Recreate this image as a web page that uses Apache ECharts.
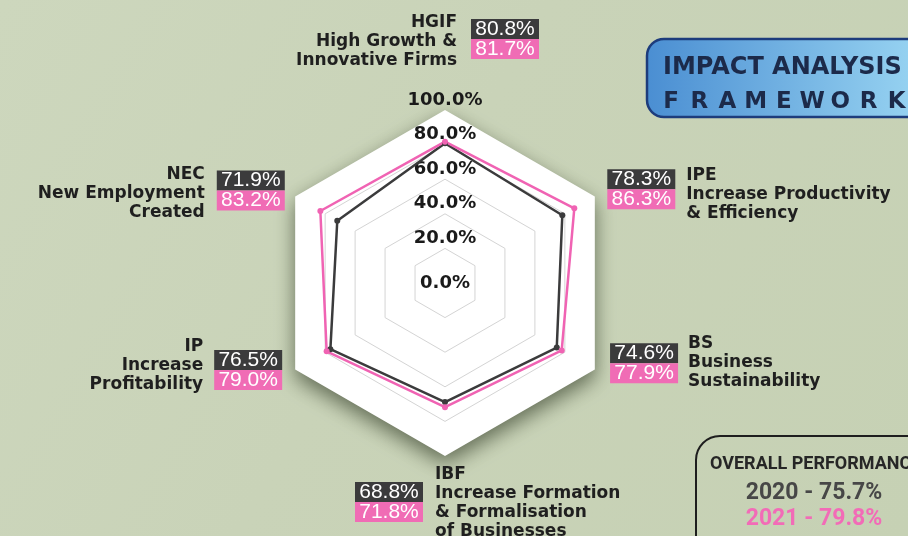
<!DOCTYPE html>
<html><head><meta charset="utf-8">
<script src="https://cdn.jsdelivr.net/npm/echarts@6/dist/echarts.min.js"></script>
<style>html,body{margin:0;padding:0;background:#c9d3b8}#c{width:908px;height:536px}</style>
</head><body><div id="c"></div>
<script>
// ---- data ----
const codes = ['HGIF', 'NEC', 'IP', 'IBF', 'BS', 'IPE'];
const descriptions = [
  ['High Growth &', 'Innovative Firms'],
  ['New Employment', 'Created'],
  ['Increase', 'Profitability'],
  ['Increase Formation', '& Formalisation', 'of Businesses'],
  ['Business', 'Sustainability'],
  ['Increase Productivity', '& Efficiency']
];
const values2020 = [80.8, 71.9, 76.5, 68.8, 74.6, 78.3];
const values2021 = [81.7, 83.2, 79.0, 71.8, 77.9, 86.3];
const axisMin = 0, axisMax = 100, axisSplits = 5;
const overallYears = ['2020', '2021'];
const overallValues = [75.7, 79.8];
const titleLine1 = 'IMPACT ANALYSIS';
const titleLine2 = 'FRAMEWORK';
const overallTitle = 'OVERALL PERFORMANCE';

// ---- layout / style ----
const CENTER = [445, 283], RADIUS = 173;
const DARK = '#3b3b3c', PINK = '#f063b3', PINKBOX = '#f06cb5';
const FONT = 'DejaVu Sans';
const nameLayout = {
  HGIF: {gap: 40, pad: [0, 146, 0, 0], cls: 'tr'},
  NEC:  {gap: 12, pad: [6, 80, 0, 0], cls: 'r'},
  IP:   {gap: 15, pad: [0, 79, 22, 0], cls: 'r'},
  IBF:  {gap: 9,  pad: [0, 0, 0, 180], cls: 'tl'},
  BS:   {gap: 17.6, pad: [0, 0, 32, 78], cls: 'l'},
  IPE:  {gap: 14.4, pad: [11, 0, 0, 79], cls: 'l'}
};
const boxLayout = {
  HGIF: {gap: 51, pad: [0, 0, 0, 120]},
  NEC:  {gap: 12, pad: [0, 0, 0, 0]},
  IP:   {gap: 15, pad: [0, 0, 14, 0]},
  IBF:  {gap: 26, pad: [0, 112, 0, 0]},
  BS:   {gap: 17.6, pad: [0, 0, 30, 0]},
  IPE:  {gap: 14.4, pad: [0, 0, 0, 0]}
};
const fmtPct = v => v.toFixed(1) + '%';
const tok = extra => Object.assign({fontFamily: FONT, fontWeight: 'bold', fontSize: 17, lineHeight: 19, color: '#1f1f1f'}, extra);
const boxTok = bg => ({width: 68, height: 20, lineHeight: 20, align: 'center', backgroundColor: bg,
  color: '#ffffff', fontFamily: 'Liberation Sans', fontSize: 21});

const mainIndicators = codes.map(c => {
  const o = {name: c, min: axisMin, max: axisMax, nameGap: nameLayout[c].gap,
    nameTextStyle: {padding: nameLayout[c].pad}};
  if (c === 'HGIF') o.axisLabel = {show: true};
  return o;
});
const boxIndicators = codes.map(c => ({name: c, min: axisMin, max: axisMax, nameGap: boxLayout[c].gap,
  nameTextStyle: {padding: boxLayout[c].pad}}));

const hidden = {axisLine: {show: false}, axisTick: {show: false}, axisLabel: {show: false}, splitLine: {show: false}, splitArea: {show: false}};

const chart = echarts.init(document.getElementById('c'), null, {renderer: 'canvas', width: 908, height: 536});
const letters = titleLine2.split('').map(ch => '{a|' + ch + '}').join('');

chart.setOption({
  backgroundColor: new echarts.graphic.LinearGradient(0, 0, 1, 1, [
    {offset: 0, color: '#cdd7bd'}, {offset: 0.45, color: '#c9d3b8'}, {offset: 1, color: '#c6d1b4'}]),
  animation: false,
  radar: [
    Object.assign({}, hidden, {
      center: CENTER, radius: RADIUS, shape: 'polygon', startAngle: 90, splitNumber: 1,
      indicator: codes.map(c => ({name: c, min: axisMin, max: axisMax})),
      axisName: {show: false},
      splitArea: {show: true, areaStyle: {color: ['#ffffff'], shadowColor: 'rgba(30,40,20,0.6)', shadowBlur: 20, shadowOffsetY: 8}}
    }),
    {
      center: CENTER, radius: RADIUS, shape: 'polygon', startAngle: 90, splitNumber: axisSplits,
      indicator: mainIndicators,
      axisName: {
        show: true,
        formatter: (name) => {
          const i = codes.indexOf(name), cls = nameLayout[name].cls;
          return [name].concat(descriptions[i]).map(s => '{' + cls + '|' + s + '}').join('\n');
        },
        rich: {
          tr: tok({align: 'right', width: 170}),
          tl: tok({align: 'left', width: 200}),
          r: tok({align: 'right'}),
          l: tok({align: 'left'})
        }
      },
      axisLine: {show: false}, axisTick: {show: false},
      axisLabel: {
        show: false, margin: 0, align: 'center', verticalAlign: 'middle', padding: [0, 0, 20, 0],
        fontFamily: FONT, fontWeight: 'bold', fontSize: 18, color: '#1a1a1a',
        formatter: v => v === 0 ? '{z|' + fmtPct(v) + '}' : fmtPct(v),
        rich: {z: {padding: [20, 0, 0, 0], fontFamily: FONT, fontWeight: 'bold', fontSize: 18, color: '#1a1a1a'}}
      },
      splitLine: {show: true, lineStyle: {color: ['rgba(0,0,0,0)', '#d4d4d4', '#d4d4d4', '#d4d4d4', '#d4d4d4', 'rgba(255,255,255,0)'], width: 1}},
      splitArea: {show: false}
    },
    Object.assign({}, hidden, {
      center: CENTER, radius: RADIUS, shape: 'polygon', startAngle: 90, splitNumber: 1,
      indicator: boxIndicators,
      axisName: {
        show: true,
        formatter: (name) => {
          const i = codes.indexOf(name);
          return '{d|' + fmtPct(values2020[i]) + '}\n{p|' + fmtPct(values2021[i]) + '}';
        },
        rich: {d: boxTok(DARK), p: boxTok(PINKBOX)}
      }
    })
  ],
  series: [{
    type: 'radar', radarIndex: 1, z: 5,
    data: [
      {name: overallYears[0], value: values2020, symbol: 'circle', symbolSize: 6,
        lineStyle: {color: DARK, width: 2.5}, itemStyle: {color: DARK}},
      {name: overallYears[1], value: values2021, symbol: 'circle', symbolSize: 6,
        lineStyle: {color: PINK, width: 2.5}, itemStyle: {color: PINK}}
    ]
  }],
  graphic: [
    {type: 'rect', shape: {x: 647, y: 39, width: 300, height: 78, r: 17},
      style: {fill: new echarts.graphic.LinearGradient(0, 0, 1, 0, [{offset: 0, color: '#4a8ed2'}, {offset: 1, color: '#a0dbf5'}]),
        stroke: '#1d3c7c', lineWidth: 2.5}},
    {type: 'text', x: 663, y: 68, style: {text: titleLine1, font: 'bold 24px "DejaVu Sans"', fill: '#1c2a4a', verticalAlign: 'middle'}},
    {type: 'text', x: 657, y: 102, style: {text: letters, verticalAlign: 'middle',
      rich: {a: {width: 28.2, align: 'center', font: 'bold 23px "DejaVu Sans"', fill: '#1c2a4a'}}}},
    {type: 'rect', shape: {x: 696, y: 436, width: 260, height: 140, r: 24},
      style: {fill: 'none', stroke: '#1e1e1e', lineWidth: 2}},
    {type: 'text', x: 710, y: 464, style: {text: overallTitle, font: 'bold 18px Roboto', fill: '#262626', verticalAlign: 'middle'}},
    {type: 'text', x: 814, y: 493, style: {text: overallYears[0] + ' - ' + fmtPct(overallValues[0]), font: 'bold 23px Roboto', fill: '#474747', align: 'center', verticalAlign: 'middle'}},
    {type: 'text', x: 814, y: 519, style: {text: overallYears[1] + ' - ' + fmtPct(overallValues[1]), font: 'bold 23px Roboto', fill: '#f26bb7', align: 'center', verticalAlign: 'middle'}}
  ]
});
</script>
</body></html>
